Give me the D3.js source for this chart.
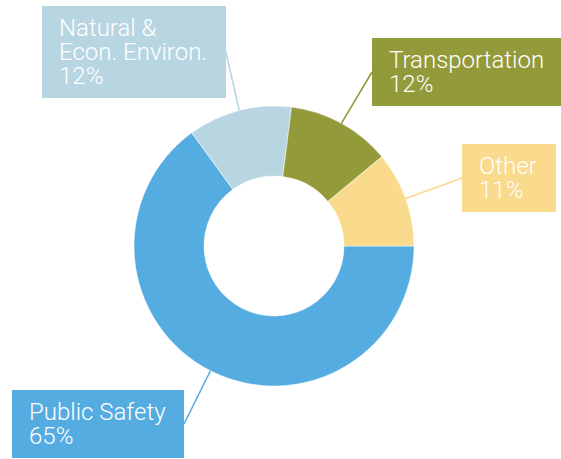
<!DOCTYPE html>
<html><head><meta charset="utf-8">
<script src="https://cdn.jsdelivr.net/npm/d3@7"></script>
<style>html,body{margin:0;padding:0;background:#fff;}svg{display:block;}</style>
</head><body>
<svg id="chart" width="561" height="459"></svg>
<script>
// Data
const categories = ["Public Safety", "Natural & Econ. Environ.", "Transportation", "Other"];
const values = [65, 12, 12, 11];
const labelLines = [["Public Safety"], ["Natural &", "Econ. Environ."], ["Transportation"], ["Other"]];
const colors = ["#54ACE0", "#B8D6E1", "#939A39", "#FADA8C"];
// Layout (label box positions)
const boxes = [
  {x: 12, y: 390, w: 172, h: 68},
  {x: 42, y: 6, w: 184, h: 92},
  {x: 372, y: 38, w: 189, h: 68},
  {x: 462, y: 144, w: 94, h: 68}
];

const svg = d3.select("#chart");
const cx = 274, cy = 246, rOuter = 140, rInner = 70;
const g = svg.append("g").attr("transform", `translate(${cx},${cy})`);

const pie = d3.pie().sort(null).value(d => d.value)
  .startAngle(Math.PI / 2).endAngle(Math.PI / 2 + 2 * Math.PI);
const data = categories.map((c, i) => ({cat: c, value: values[i], i}));
const arcs = pie(data);
const arc = d3.arc().innerRadius(rInner).outerRadius(rOuter);

// leader lines
arcs.forEach(a => {
  const b = boxes[a.data.i];
  const mid = (a.startAngle + a.endAngle) / 2;
  const px = cx + rOuter * Math.sin(mid), py = cy - rOuter * Math.cos(mid);
  const bx = (px < b.x) ? b.x : b.x + b.w;
  const by = b.y + b.h / 2;
  svg.append("line").attr("x1", px).attr("y1", py).attr("x2", bx).attr("y2", by)
    .attr("stroke", colors[a.data.i]).attr("stroke-width", 1.6);
});

g.selectAll("path").data(arcs).join("path")
  .attr("d", arc).attr("fill", d => colors[d.data.i])
  .attr("stroke", "#fff").attr("stroke-width", 0.5);

// label boxes
arcs.forEach(a => {
  const i = a.data.i, b = boxes[i];
  svg.append("rect").attr("x", b.x).attr("y", b.y).attr("width", b.w).attr("height", b.h)
    .attr("fill", colors[i]);
  const lines = labelLines[i].concat([d3.format(".0f")(a.data.value) + "%"]);
  const t = svg.append("text").attr("x", b.x + 17).attr("y", b.y + 29.8)
    .attr("fill", "#fff").attr("font-family", "Roboto, sans-serif")
    .attr("font-weight", 300).attr("font-size", 24);
  lines.forEach((l, k) => t.append("tspan").attr("x", b.x + 17).attr("dy", k === 0 ? 0 : 24).text(l));
});
</script>
</body></html>
